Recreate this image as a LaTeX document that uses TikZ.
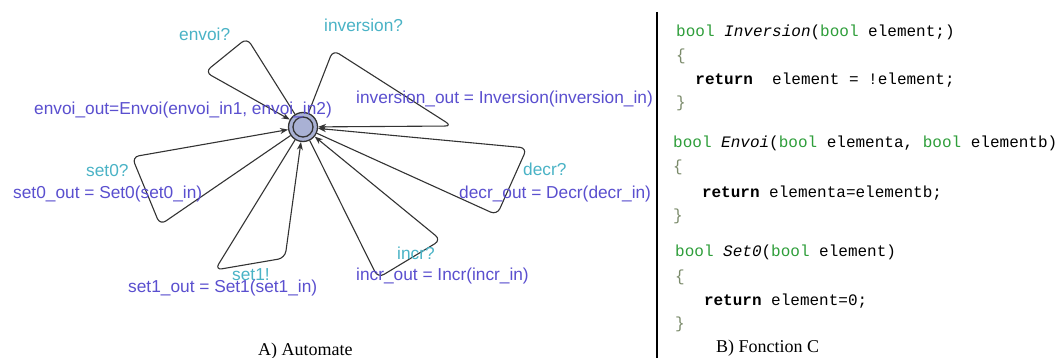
\documentclass[tikz,border=0pt]{standalone}
\usepackage{fontspec}
\setmainfont{Liberation Sans}
\setmonofont{Liberation Mono}
\newfontfamily\capfont{Liberation Serif}
\usetikzlibrary{arrows.meta}
\definecolor{synccol}{HTML}{4AB3C6}
\definecolor{updcol}{HTML}{5A4FCF}
\definecolor{boolcol}{HTML}{2E9E3A}
\definecolor{bracecol}{HTML}{7A8A6A}
\definecolor{locfill}{HTML}{A9B1D4}
\tikzset{
  loop/.style={draw=black!80, line width=1.1pt, rounded corners=7pt, -{Stealth[length=8pt,width=6pt]}},
  synclab/.style={anchor=base west, inner sep=0pt, text=synccol, font=\fontsize{17.3}{20}\selectfont},
  updlab/.style={anchor=base west, inner sep=0pt, text=updcol, font=\fontsize{17.3}{20}\selectfont},
  codeline/.style={anchor=base west, inner sep=0pt, font=\ttfamily\fontsize{16}{19}\selectfont},
  caption/.style={anchor=base west, inner sep=0pt, font=\capfont\fontsize{18}{21}\selectfont},
  locstyle/.style={circle, draw=black!80, line width=1.3pt, fill=locfill, minimum size=29pt, inner sep=0pt}
}
\newcommand{\kw}[1]{\textcolor{boolcol}{#1}}
\newcommand{\br}[1]{\textcolor{bracecol}{#1}}
\begin{document}
\begin{tikzpicture}[x=1pt,y=-1pt]
\useasboundingbox[fill=white] (0,0) rectangle (1062,358);
% location
\node[locstyle] (loc) at (303,127) {};
\draw[line width=1.3pt, draw=black!80] (loc.center) circle[radius=10pt];
% loop corners
\coordinate (e1) at (247,38);   \coordinate (e2) at (205,72);
\coordinate (i1) at (333,50);   \coordinate (i2) at (452,126);
\coordinate (d1) at (497,215);  \coordinate (d2) at (527,148);
\coordinate (c1) at (378,278);  \coordinate (c2) at (441,240);
\coordinate (s11) at (215,270); \coordinate (s12) at (285,258);
\coordinate (s01) at (160,225); \coordinate (s02) at (132,157);
% loops
\draw[loop] (loc) -- (e1) -- (e2) -- (loc);
\draw[loop] (loc) -- (i1) -- (i2) -- (loc);
\draw[loop] (loc) -- (d1) -- (d2) -- (loc);
\draw[loop] (loc) -- (c1) -- (c2) -- (loc);
\draw[loop] (loc) -- (s11) -- (s12) -- (loc);
\draw[loop] (loc) -- (s01) -- (s02) -- (loc);
% labels
\node[synclab] (le) at (179,41) {envoi?};
\node[synclab] (li) at (324,32) {inversion?};
\node[updlab] (ue) at (34,115) {envoi\_out=Envoi(envoi\_in1, envoi\_in2)};
\node[updlab] (ui) at (356,104) {inversion\_out = Inversion(inversion\_in)};
\node[synclab] (ls0) at (86,177) {set0?};
\node[updlab] (us0) at (13,198) {set0\_out = Set0(set0\_in)};
\node[synclab] (ld) at (523,176) {decr?};
\node[updlab] (ud) at (459,198) {decr\_out = Decr(decr\_in)};
\node[synclab] (lc) at (397,259) {incr?};
\node[updlab] (uc) at (356,280) {incr\_out = Incr(incr\_in)};
\node[synclab] (ls1) at (232,280) {set1!};
\node[updlab] (us1) at (128,292) {set1\_out = Set1(set1\_in)};
\node[caption] (capA) at (258,355) {A) Automate};
% separator
\coordinate (septop) at (657,12);
\coordinate (sepbot) at (657,358);
\draw[line width=1.3pt] (septop) -- (sepbot);
% code
\node[codeline] (k1) at (676,37) {\kw{bool} \textit{Inversion}(\kw{bool} element;)};
\node[codeline] (k2) at (676,61) {\br{\{}};
\node[codeline] (k3) at (676,85) {\ \ \textbf{return}\ \ element = !element;};
\node[codeline] (k4) at (676,108) {\br{\}}};
\node[codeline] (k5) at (673,148) {\kw{bool} \textit{Envoi}(\kw{bool} elementa, \kw{bool} elementb)};
\node[codeline] (k6) at (673,172) {\br{\{}};
\node[codeline] (k7) at (673,197) {\ \ \ \textbf{return} elementa=elementb;};
\node[codeline] (k8) at (673,220) {\br{\}}};
\node[codeline] (k9) at (675,256) {\kw{bool} \textit{Set0}(\kw{bool} element)};
\node[codeline] (k10) at (675,281) {\br{\{}};
\node[codeline] (k11) at (675,305) {\ \ \ \textbf{return} element=0;};
\node[codeline] (k12) at (675,328) {\br{\}}};
\node[caption] (capB) at (716,352) {B) Fonction C};
\end{tikzpicture}
\end{document}
